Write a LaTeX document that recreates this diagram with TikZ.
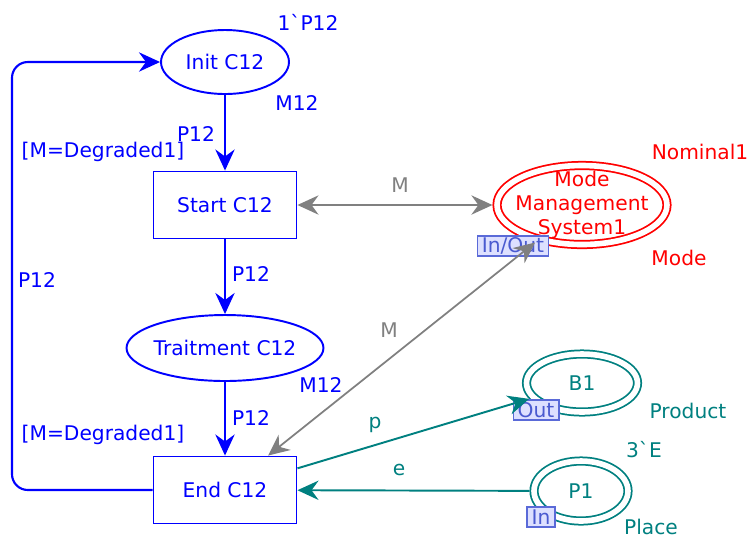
\documentclass[tikz,border=0pt]{standalone}
\usepackage{fontspec}
\setmainfont{DejaVu Sans}[Ligatures=TeXOff]
\usetikzlibrary{arrows.meta,shapes.geometric}
\definecolor{cpnblue}{HTML}{0000FF}
\definecolor{cpnred}{HTML}{FF0000}
\definecolor{cpngray}{HTML}{808080}
\definecolor{cpnteal}{HTML}{008080}
\definecolor{portfill}{HTML}{DDE0FF}
\definecolor{portline}{HTML}{5A6AD8}
\definecolor{porttext}{HTML}{4A5AD0}

\begin{document}
\begin{tikzpicture}[
    x=0.02cm, y=-0.02cm,
    font=\fontsize{11.5}{13.6}\selectfont,
    cpn/.tip={Stealth[length=12pt, width=11pt, inset=4pt]},
    trans/.style={rectangle, draw=cpnblue, line width=1.1pt, text=cpnblue,
      minimum width=2.86cm, minimum height=1.34cm, inner sep=0pt},
    place/.style={ellipse, draw=cpnblue, line width=1.1pt, text=cpnblue, inner sep=0pt},
    fusion/.style={ellipse, double=white, double distance=3.2pt, line width=1pt,
      inner sep=0pt, outer sep=2.6pt},
    port/.style={rectangle, fill=portfill, draw=portline, text=porttext, line width=0.9pt,
      inner xsep=2.5pt, inner ysep=0pt, minimum height=0.41cm},
    arc/.style={line width=1.2pt, -cpn},
    lbl/.style={inner sep=0pt},
  ]

  \useasboundingbox (0,0) rectangle (750,539);

  % ---- the C12 chain
  \node[place, minimum width=2.56cm, minimum height=1.28cm] (init) at (225,62) {Init C12};
  \node[trans] (start) at (225,205) {Start C12};
  \node[place, minimum width=3.94cm, minimum height=1.32cm] (trait) at (225,348) {};
  \node[lbl, text=cpnblue] (traittxt) at (trait) {Traitment C12};
  \node[trans] (endc) at (225,490) {End C12};

  % ---- port places
  \node[fusion, draw=cpnred, minimum width=3.40cm, minimum height=1.58cm] (mms) at (582,205) {};
  \node[lbl, text=cpnred, align=center] (mmstxt) at (mms) {Mode\\Management\\System1};
  \node[fusion, draw=cpnteal, text=cpnteal, minimum width=2.22cm, minimum height=1.16cm] (b1) at (582,383) {B1};
  \node[fusion, draw=cpnteal, text=cpnteal, minimum width=1.88cm, minimum height=1.20cm] (p1) at (581,491) {P1};

  \node[port] (iotag) at (513,246) {In/Out};
  \node[port] (outtag) at (536,410) {Out};
  \node[port] (intag) at (541,517) {In};

  % ---- arcs
  \foreach \a/\b in {init/start, start/trait, trait/endc}
    \draw[arc, draw=cpnblue] (\a) -- (\b);

  \coordinate (loopcorner) at (12,62);
  \draw[arc, draw=cpnblue, rounded corners=9pt] (endc.west) -| (loopcorner) -- (init.west);

  \draw[draw=cpngray, line width=1pt, cpn-cpn] (start) -- (mms);
  \draw[draw=cpngray, line width=1pt, cpn-cpn] (endc) -- (mms);

  \draw[arc, draw=cpnteal, line width=1.1pt] (endc) -- (b1);
  \draw[arc, draw=cpnteal, line width=1.1pt] (p1) -- (endc);

  % ---- inscriptions
  \node[lbl, text=cpnblue] (initmark) at (308,22) {1`P12};
  \node[lbl, text=cpnblue] (inittype) at (297,103) {M12};
  \node[lbl, text=cpnblue] (pa) at (196,134) {P12};
  \node[lbl, text=cpnblue] (guarda) at (103,152) {[M=Degraded1]};
  \node[lbl, text=cpnblue] (pb) at (251,274) {P12};
  \node[lbl, text=cpnblue] (pback) at (37,280) {P12};
  \node[lbl, text=cpnblue] (traittype) at (321,385) {M12};
  \node[lbl, text=cpnblue] (pc) at (251,418) {P12};
  \node[lbl, text=cpnblue] (guardb) at (103,435) {[M=Degraded1]};

  \node[lbl, text=cpngray] (ma) at (400,185) {M};
  \node[lbl, text=cpngray] (mb) at (389,330) {M};

  \node[lbl, text=cpnred] (mmsmark) at (700,152) {Nominal1};
  \node[lbl, text=cpnred] (mmstype) at (679,258) {Mode};

  \node[lbl, text=cpnteal] (pout) at (375,425) {p};
  \node[lbl, text=cpnteal] (ein) at (399,470) {e};
  \node[lbl, text=cpnteal] (b1type) at (688,411) {Product};
  \node[lbl, text=cpnteal] (p1mark) at (644,450) {3`E};
  \node[lbl, text=cpnteal] (p1type) at (651,527) {Place};

\end{tikzpicture}
\end{document}
